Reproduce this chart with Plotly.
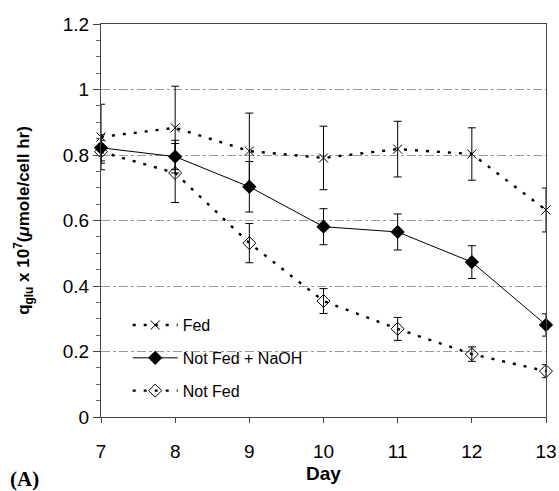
import plotly.graph_objects as go

days = [7, 8, 9, 10, 11, 12, 13]
fed = [0.855, 0.883, 0.812, 0.791, 0.818, 0.803, 0.632]
fed_err = [0.10, 0.127, 0.116, 0.097, 0.085, 0.08, 0.067]
naoh = [0.822, 0.795, 0.703, 0.581, 0.565, 0.473, 0.281]
naoh_err = [0.04, 0.05, 0.077, 0.055, 0.055, 0.05, 0.034]
notfed = [0.81, 0.745, 0.531, 0.354, 0.269, 0.192, 0.14]
notfed_err = [0.035, 0.09, 0.06, 0.038, 0.035, 0.022, 0.02]

fig = go.Figure()
fig.add_trace(go.Scatter(
    x=days, y=fed, name="Fed", mode="lines+markers", legendgroup="a",
    line=dict(color="black", width=2.4, dash="3px,8px"),
    marker=dict(symbol="x-thin-open", size=9, color="black", line=dict(width=1, color="black")),
    error_y=dict(type="data", array=fed_err, color="black", thickness=1, width=4),
    cliponaxis=False))
fig.add_trace(go.Scatter(
    x=days, y=naoh, name="Not Fed + NaOH", mode="lines+markers", legendgroup="b",
    line=dict(color="black", width=1),
    marker=dict(symbol="diamond", size=11, color="black"),
    error_y=dict(type="data", array=naoh_err, color="black", thickness=1, width=4),
    cliponaxis=False))
fig.add_trace(go.Scatter(
    x=days, y=notfed, name="Not Fed", mode="lines+markers", legendgroup="c",
    line=dict(color="black", width=2.4, dash="3px,8px"),
    marker=dict(symbol="diamond-open", size=10, color="black", line=dict(width=1, color="black")),
    error_y=dict(type="data", array=notfed_err, color="black", thickness=1, width=4),
    cliponaxis=False))

fig.update_layout(
    width=559, height=491,
    margin=dict(l=101, r=13, t=24, b=74),
    paper_bgcolor="white", plot_bgcolor="white",
    font=dict(family="Liberation Sans, Arial, sans-serif", color="black"),
    showlegend=True,
    legend=dict(x=0.06, y=0.277, xanchor="left", yanchor="top",
                bgcolor="rgba(0,0,0,0)", font=dict(size=16),
                itemwidth=45, tracegroupgap=9),
    xaxis=dict(range=[7, 13], dtick=1, tick0=7, automargin=False,
               showline=True, linecolor="#444", linewidth=1, mirror=True,
               ticks="outside", ticklen=5, tickcolor="#444",
               ticklabelstandoff=12,
               showgrid=False, zeroline=False,
               tickfont=dict(size=19)),
    yaxis=dict(range=[0, 1.2], dtick=0.2, tick0=0, automargin=False,
               showline=True, linecolor="#444", linewidth=1, mirror=True,
               ticks="outside", ticklen=7, tickcolor="#444",
               minor=dict(dtick=0.05, ticks="outside", ticklen=4, tickcolor="#666", showgrid=False),
               showgrid=True, gridcolor="#999", gridwidth=1, griddash="dashdot",
               zeroline=False,
               tickfont=dict(size=19),
               tickformat="~g",
               title=dict(text="<b>q<sub>glu</sub> x 10<sup>7</sup>(<i>μ</i>mole/cell hr)</b>",
                          font=dict(size=17), standoff=28)),
    annotations=[
        dict(text="<b>Day</b>", xref="paper", yref="paper",
             x=0.5, y=(417 - 473) / 393, xanchor="center", yanchor="middle",
             showarrow=False, font=dict(size=19)),
        dict(text="<b>(A)</b>", xref="paper", yref="paper",
             x=-0.209, y=(417 - 479) / 393, xanchor="left", yanchor="middle",
             showarrow=False,
             font=dict(family="Liberation Serif, Times New Roman, serif", size=21))],
)
fig.write_html("out.html")
